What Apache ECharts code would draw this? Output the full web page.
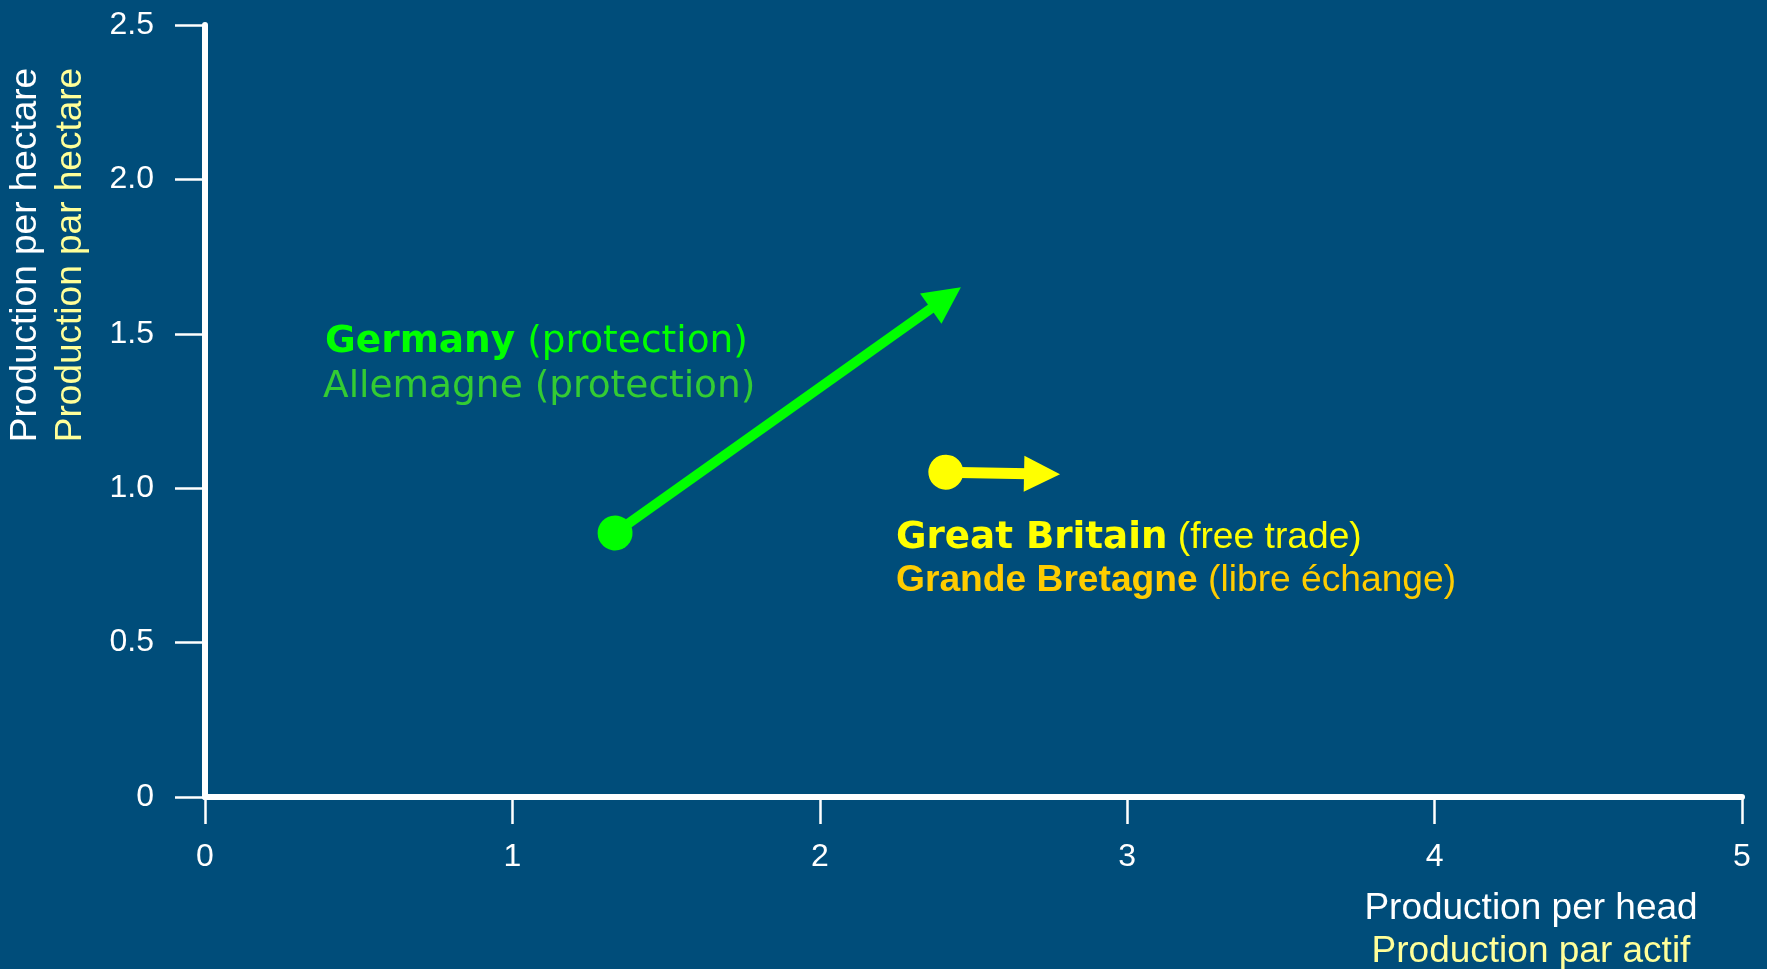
<!DOCTYPE html>
<html>
<head>
<meta charset="utf-8">
<script src="https://cdn.jsdelivr.net/npm/echarts@6/dist/echarts.min.js"></script>
<style>
html,body{margin:0;padding:0;background:#004d7a;}
#chart{width:1767px;height:969px;}
</style>
</head>
<body>
<div id="chart"></div>
<script>
// Data (x = production per head, y = production per hectare)
const germanyArrow = [[1.334, 0.855], [2.41, 1.616]];   // start dot -> arrowhead
const britainArrow = [[2.41, 1.052], [2.723, 1.046]];   // start dot -> arrowhead
const xTicks = [0, 1, 2, 3, 4, 5];
const yTicks = [0, 0.5, 1.0, 1.5, 2.0, 2.5];
const xTitle = ['Production per head', 'Production par actif'];
const yTitle = ['Production per hectare', 'Production par hectare'];
const germanyLabel = ['Germany', '(protection)', 'Allemagne (protection)'];
const britainLabel = ['Great Britain', '(free trade)', 'Grande Bretagne', '(libre échange)'];

const BG = '#004d7a';
const SANS = '"Liberation Sans", Arial, sans-serif';
const VERD = '"DejaVu Sans", Verdana, sans-serif';

const chart = echarts.init(document.getElementById('chart'));
chart.setOption({
  backgroundColor: BG,
  animation: false,
  grid: { left: 205, right: 25, top: 25, bottom: 172, outerBoundsMode: 'none' },
  title: [
    { text: xTitle[0], left: 1531, top: 890, textAlign: 'center', padding: 0,
      textStyle: { color: '#ffffff', fontFamily: SANS, fontSize: 37, fontWeight: 'normal', lineHeight: 37 } },
    { text: xTitle[1], left: 1531, top: 933, textAlign: 'center', padding: 0,
      textStyle: { color: '#ffff99', fontFamily: SANS, fontSize: 37, fontWeight: 'normal', lineHeight: 37 } }
  ],
  xAxis: {
    type: 'value', min: xTicks[0], max: xTicks[xTicks.length - 1], interval: 1,
    axisLine: { show: true, lineStyle: { color: '#ffffff', width: 6 } },
    axisTick: { show: true, length: 27, lineStyle: { color: '#ffffff', width: 2.5 } },
    splitLine: { show: false },
    axisLabel: { color: '#ffffff', fontFamily: SANS, fontSize: 32, margin: 44,
      formatter: v => String(v) }
  },
  yAxis: {
    type: 'value', min: yTicks[0], max: yTicks[yTicks.length - 1], interval: 0.5,
    axisLine: { show: true, lineStyle: { color: '#ffffff', width: 6 } },
    axisTick: { show: true, length: 30, lineStyle: { color: '#ffffff', width: 2.5 } },
    splitLine: { show: false },
    axisLabel: { color: '#ffffff', fontFamily: SANS, fontSize: 32, margin: 51,
      padding: [0, 0, 4, 0],
      formatter: v => (v === 0 ? '0' : v.toFixed(1)) }
  },
  series: [
    {
      type: 'lines', coordinateSystem: 'cartesian2d', z: 5,
      symbol: ['circle', 'triangle'], symbolSize: [35, 37],
      lineStyle: { color: '#00ff00', width: 10, opacity: 1, curveness: 0 },
      data: [{ coords: germanyArrow }]
    },
    {
      type: 'lines', coordinateSystem: 'cartesian2d', z: 5,
      symbol: ['circle', 'triangle'], symbolSize: [35, 36],
      lineStyle: { color: '#ffff00', width: 11, opacity: 1, curveness: 0 },
      data: [{ coords: britainArrow }]
    }
  ],
  graphic: [
    { type: 'text', x: 26, y: 255, rotation: Math.PI / 2,
      style: { text: yTitle[0], fill: '#ffffff', font: '37px ' + SANS, align: 'center', verticalAlign: 'middle' } },
    { type: 'text', x: 71, y: 255, rotation: Math.PI / 2,
      style: { text: yTitle[1], fill: '#ffff99', font: '37px ' + SANS, align: 'center', verticalAlign: 'middle' } },
    { type: 'text', x: 325, y: 342,
      style: { text: '{b|' + germanyLabel[0] + '} {n|' + germanyLabel[1] + '}', align: 'left', verticalAlign: 'middle',
        rich: {
          b: { fill: '#00ff00', color: '#00ff00', fontFamily: VERD, fontWeight: 'bold', fontSize: 37.5 },
          n: { fill: '#00ff00', color: '#00ff00', fontFamily: VERD, fontSize: 37.5 }
        }, fill: '#00ff00', font: '37.5px ' + VERD } },
    { type: 'text', x: 323, y: 387,
      style: { text: germanyLabel[2], fill: '#33cc33', font: '37.5px ' + VERD, align: 'left', verticalAlign: 'middle' } },
    { type: 'text', x: 896, y: 538,
      style: { text: '{b|' + britainLabel[0] + '} {n|' + britainLabel[1] + '}', align: 'left', verticalAlign: 'middle',
        rich: {
          b: { fill: '#ffff00', color: '#ffff00', fontFamily: VERD, fontWeight: 'bold', fontSize: 37.2 },
          n: { fill: '#ffff00', color: '#ffff00', fontFamily: SANS, fontSize: 37.2 }
        }, fill: '#ffff00', font: '37.2px ' + SANS } },
    { type: 'text', x: 896, y: 581,
      style: { text: '{b|' + britainLabel[2] + '} {n|' + britainLabel[3] + '}', align: 'left', verticalAlign: 'middle',
        rich: {
          b: { fill: '#ffcc00', color: '#ffcc00', fontFamily: SANS, fontWeight: 'bold', fontSize: 37.2 },
          n: { fill: '#ffcc00', color: '#ffcc00', fontFamily: SANS, fontSize: 37.2 }
        }, fill: '#ffcc00', font: '37.2px ' + SANS } }
  ]
});
</script>
</body>
</html>
